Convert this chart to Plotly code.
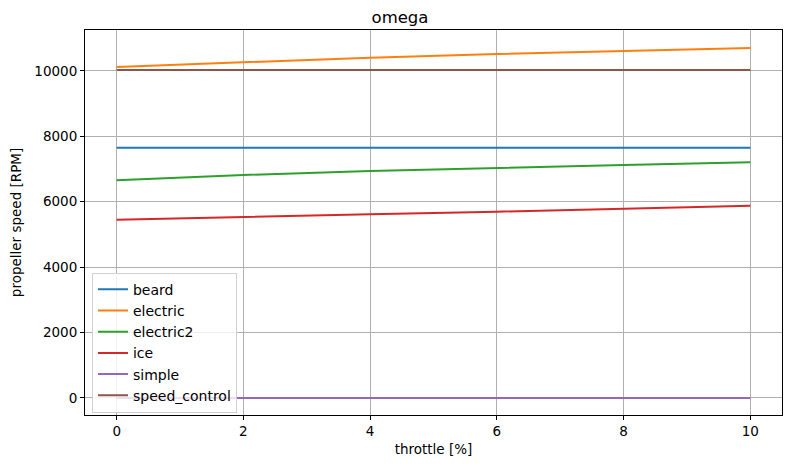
import plotly.graph_objects as go

throttle = [0, 2, 4, 6, 8, 10]
beard = [7652, 7652, 7652, 7652, 7652, 7652]
electric = [10120, 10272, 10404, 10517, 10618, 10700]
electric2 = [6655, 6818, 6940, 7041, 7123, 7205]
ice = [5451, 5543, 5616, 5696, 5787, 5879]
simple = [0, 0, 0, 0, 0, 0]
speed_control = [10030, 10030, 10030, 10030, 10030, 10030]

x_ticks = [0, 2, 4, 6, 8, 10]
y_ticks = [0, 2000, 4000, 6000, 8000, 10000]
y_ticklabels = ["0", "2000", "4000", "6000", "8000", "10000"]

series = [
    ("beard", beard, "#1f77b4"),
    ("electric", electric, "#ff7f0e"),
    ("electric2", electric2, "#2ca02c"),
    ("ice", ice, "#d62728"),
    ("simple", simple, "#9467bd"),
    ("speed_control", speed_control, "#8c564b"),
]

fig = go.Figure()
for name, vals, col in series:
    fig.add_trace(go.Scatter(x=throttle, y=vals, mode="lines", name=name,
                             line=dict(color=col, width=2)))

font = "DejaVu Sans"
axis_common = dict(showline=True, linecolor="black", linewidth=1, mirror=True,
                   showgrid=True, gridcolor="#b0b0b0", gridwidth=0.8,
                   ticks="outside", ticklen=4, tickcolor="black", zeroline=False,
                   automargin=False,
                   tickfont=dict(family=font, size=13.5, color="black"))

fig.update_layout(
    width=784, height=461,
    paper_bgcolor="white", plot_bgcolor="white",
    margin=dict(l=77, r=10, t=22, b=54),
    title=dict(text="omega", x=0.5, xanchor="center", y=0.980, yanchor="middle",
               font=dict(family=font, size=16.5, color="black")),
    xaxis=dict(range=[-0.5, 10.5], tickvals=x_ticks,
               title=dict(text="throttle [%]", font=dict(family=font, size=13.5, color="black"), standoff=6),
               **axis_common),
    yaxis=dict(range=[-520, 11250], tickvals=y_ticks, ticktext=y_ticklabels,
               title=dict(text="propeller speed [RPM]", font=dict(family=font, size=13.5, color="black"), standoff=10),
               **axis_common),
    legend=dict(x=0.01, y=0.006, xanchor="left", yanchor="bottom",
                bgcolor="rgba(255,255,255,0.8)", bordercolor="#d0d0d0", borderwidth=1,
                font=dict(family=font, size=14, color="black"), tracegroupgap=0,
                itemwidth=30),
    showlegend=True,
)

fig.write_html("out.html")
